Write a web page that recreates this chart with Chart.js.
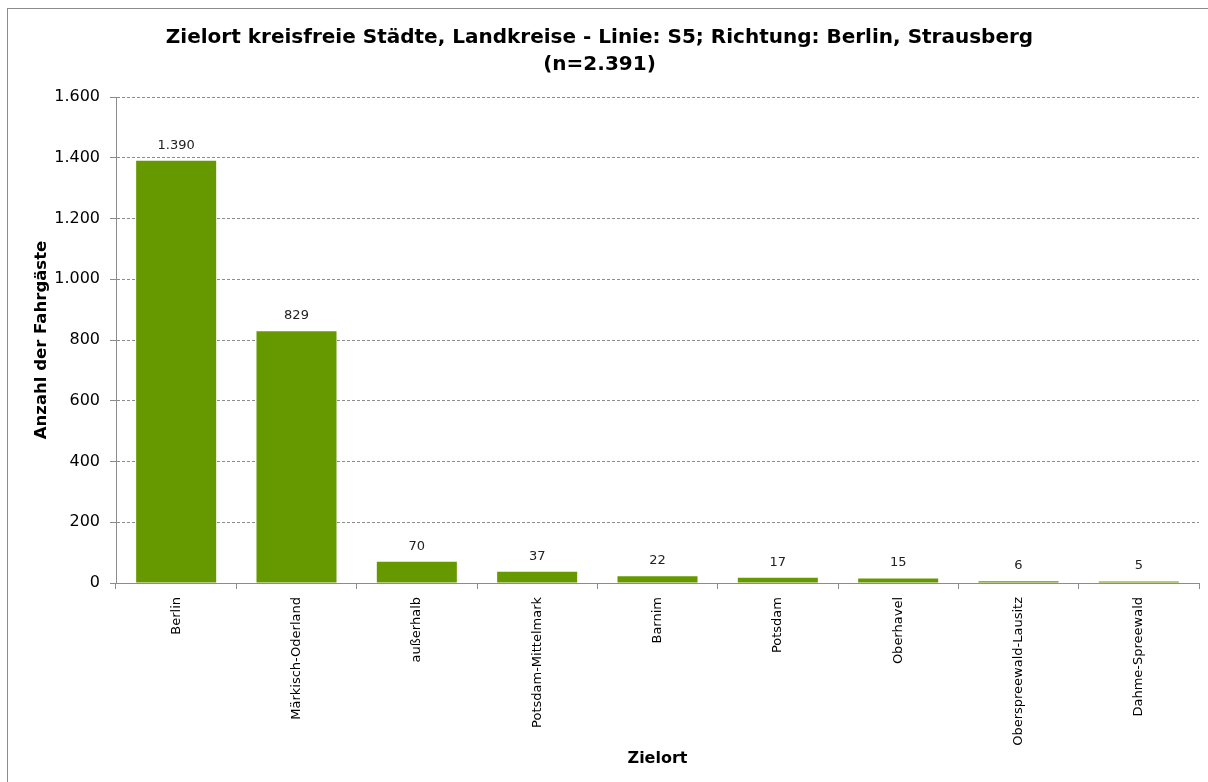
<!DOCTYPE html>
<html lang="de">
<head>
  <meta charset="UTF-8" />
  <title>Zielort kreisfreie Städte, Landkreise - Linie: S5</title>
  <script src="https://cdn.jsdelivr.net/npm/chart.js"></script>
  <style>
    html, body { margin: 0; padding: 0; background: #fff; }
    #wrap { position: relative; width: 1208px; height: 782px; overflow: hidden; }
    #frame { position: absolute; left: 7px; top: 8px; width: 1300px; height: 900px; border: 1px solid #8c8c8c; box-sizing: border-box; }
    canvas { position: absolute; left: 0; top: 0; }
  </style>
</head>
<body>
  <div id="wrap">
    <div id="frame"></div>
    <canvas id="zielort" width="1208" height="782"></canvas>
  </div>

  <script>
    const zielorte = ['Berlin', 'Märkisch-Oderland', 'außerhalb', 'Potsdam-Mittelmark', 'Barnim', 'Potsdam', 'Oberhavel', 'Oberspreewald-Lausitz', 'Dahme-Spreewald'];
    const fahrgaeste = [1390, 829, 70, 37, 22, 17, 15, 6, 5];
    const titelZeilen = ['Zielort kreisfreie Städte, Landkreise - Linie: S5; Richtung: Berlin, Strausberg', '(n=2.391)'];

    const fmt = v => v.toLocaleString('de-DE');
    const FONT = "'DejaVu Sans', Tahoma, sans-serif";

    // Werte über den Balken
    const wertLabels = {
      id: 'wertLabels',
      afterDatasetsDraw(chart) {
        const ctx = chart.ctx;
        const meta = chart.getDatasetMeta(0);
        ctx.save();
        ctx.font = '13px ' + FONT;
        ctx.fillStyle = '#222';
        ctx.textAlign = 'center';
        ctx.textBaseline = 'bottom';
        meta.data.forEach((bar, i) => {
          ctx.fillText(fmt(fahrgaeste[i]), bar.x, bar.y - 9);
        });
        ctx.restore();
      }
    };

    new Chart(document.getElementById('zielort'), {
      type: 'bar',
      data: {
        labels: zielorte,
        datasets: [{
          data: fahrgaeste,
          backgroundColor: '#669900',
          borderWidth: 0,
          categoryPercentage: 1,
          barPercentage: 0.665
        }]
      },
      options: {
        responsive: false,
        animation: false,
        layout: { padding: { left: 0, right: 9, top: 0, bottom: 0 } },
        plugins: {
          legend: { display: false },
          tooltip: { enabled: false },
          title: {
            display: true,
            text: titelZeilen,
            color: '#000',
            font: { family: FONT, size: 20, weight: 'bold', lineHeight: 1.35 },
            padding: { top: 24, bottom: 19 }
          }
        },
        scales: {
          x: {
            grid: { drawOnChartArea: false, drawTicks: true, tickLength: 6, color: '#8c8c8c', offset: true },
            border: { color: '#8c8c8c', width: 1 },
            ticks: { color: '#000', font: { family: FONT, size: 13 }, minRotation: 90, maxRotation: 90, padding: 8 },
            title: { display: true, text: 'Zielort', color: '#000', font: { family: FONT, size: 16, weight: 'bold' }, padding: { top: 0, bottom: 14 } },
            afterFit(scale) { scale.height = 782 - 583; }
          },
          y: {
            min: 0,
            max: 1600,
            ticks: { stepSize: 200, color: '#000', font: { family: FONT, size: 16 }, padding: 10, callback: v => fmt(v) },
            grid: { color: '#8c8c8c', tickColor: '#8c8c8c', tickLength: 6, lineWidth: 1 },
            border: { color: '#8c8c8c', width: 1, dash: [3, 2] },
            title: { display: true, text: 'Anzahl der Fahrgäste', color: '#000', font: { family: FONT, size: 16.5, weight: 'bold' }, padding: { top: 32, bottom: 0 } },
            afterFit(scale) { scale.width = 116; }
          }
        }
      },
      plugins: [wertLabels]
    });
  </script>
</body>
</html>
